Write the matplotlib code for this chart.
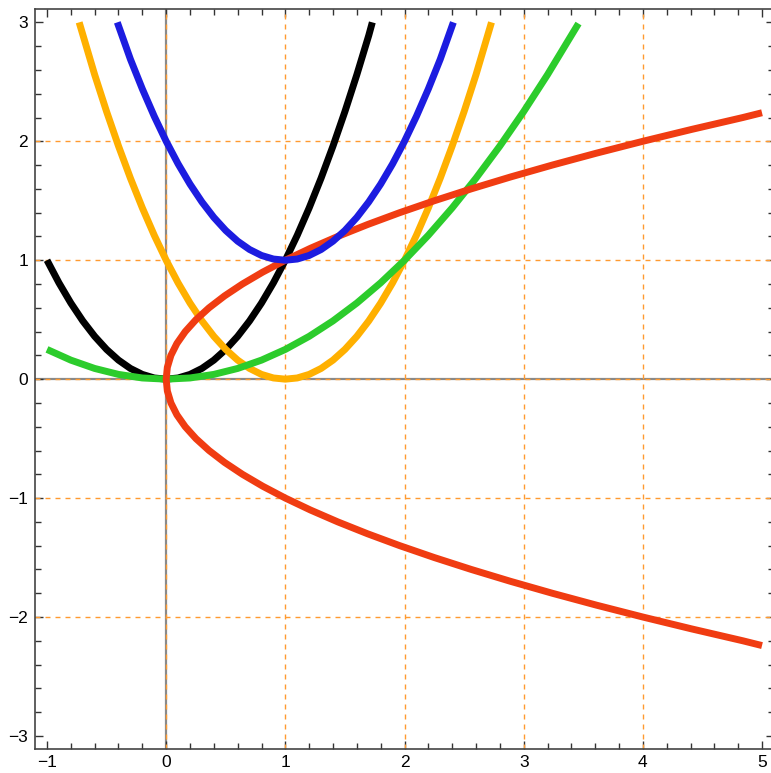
import matplotlib
matplotlib.use("Agg")
import matplotlib.pyplot as plt
from matplotlib.ticker import MultipleLocator

plt.rcParams['font.family'] = ['Liberation Sans', 'DejaVu Sans']

# black parabola
black_x = [-1.0, -0.9, -0.8, -0.7, -0.6, -0.5, -0.4, -0.3, -0.2, -0.1, 0.0,
           0.1, 0.2, 0.3, 0.4, 0.5, 0.6, 0.7, 0.8, 0.9, 1.0, 1.1, 1.2, 1.3,
           1.4, 1.5, 1.6, 1.7, 1.73]
black_y = [1.00, 0.81, 0.64, 0.49, 0.36, 0.25, 0.16, 0.09, 0.04, 0.01, 0.00,
           0.01, 0.04, 0.09, 0.16, 0.25, 0.36, 0.49, 0.64, 0.81, 1.00, 1.21, 1.44, 1.69,
           1.96, 2.25, 2.56, 2.89, 3.00]

# orange parabola
orange_x = [-0.73, -0.6, -0.5, -0.4, -0.3, -0.2, -0.1, 0.0, 0.1, 0.2, 0.3, 0.4,
            0.5, 0.6, 0.7, 0.8, 0.9, 1.0, 1.1, 1.2, 1.3, 1.4, 1.5, 1.6, 1.7, 1.8,
            1.9, 2.0, 2.1, 2.2, 2.3, 2.4, 2.5, 2.6, 2.73]
orange_y = [3.00, 2.56, 2.25, 1.96, 1.69, 1.44, 1.21, 1.00, 0.81, 0.64, 0.49, 0.36,
            0.25, 0.16, 0.09, 0.04, 0.01, 0.00, 0.01, 0.04, 0.09, 0.16, 0.25, 0.36, 0.49, 0.64,
            0.81, 1.00, 1.21, 1.44, 1.69, 1.96, 2.25, 2.56, 3.00]

# blue parabola
blue_x = [-0.41, -0.3, -0.2, -0.1, 0.0, 0.1, 0.2, 0.3, 0.4, 0.5, 0.6, 0.7, 0.8,
          0.9, 1.0, 1.1, 1.2, 1.3, 1.4, 1.5, 1.6, 1.7, 1.8, 1.9, 2.0, 2.1, 2.2,
          2.3, 2.41]
blue_y = [3.00, 2.69, 2.44, 2.21, 2.00, 1.81, 1.64, 1.49, 1.36, 1.25, 1.16, 1.09, 1.04,
          1.01, 1.00, 1.01, 1.04, 1.09, 1.16, 1.25, 1.36, 1.49, 1.64, 1.81, 2.00, 2.21, 2.44,
          2.69, 3.00]

# green parabola
green_x = [-1.0, -0.8, -0.6, -0.4, -0.2, 0.0, 0.2, 0.4, 0.6, 0.8, 1.0, 1.2, 1.4,
           1.6, 1.8, 2.0, 2.2, 2.4, 2.6, 2.8, 3.0, 3.2, 3.46]
green_y = [0.25, 0.16, 0.09, 0.04, 0.01, 0.00, 0.01, 0.04, 0.09, 0.16, 0.25, 0.36, 0.49,
           0.64, 0.81, 1.00, 1.21, 1.44, 1.69, 1.96, 2.25, 2.56, 2.99]

# red sideways parabola
red_y = [-2.24, -2.2, -2.1, -2.0, -1.9, -1.8, -1.7, -1.6, -1.5, -1.4, -1.3, -1.2,
         -1.1, -1.0, -0.9, -0.8, -0.7, -0.6, -0.5, -0.4, -0.3, -0.2, -0.1, 0.0,
         0.1, 0.2, 0.3, 0.4, 0.5, 0.6, 0.7, 0.8, 0.9, 1.0, 1.1, 1.2, 1.3, 1.4,
         1.5, 1.6, 1.7, 1.8, 1.9, 2.0, 2.1, 2.2, 2.24]
red_x = [5.00, 4.84, 4.41, 4.00, 3.61, 3.24, 2.89, 2.56, 2.25, 1.96, 1.69, 1.44,
         1.21, 1.00, 0.81, 0.64, 0.49, 0.36, 0.25, 0.16, 0.09, 0.04, 0.01, 0.00,
         0.01, 0.04, 0.09, 0.16, 0.25, 0.36, 0.49, 0.64, 0.81, 1.00, 1.21, 1.44, 1.69, 1.96,
         2.25, 2.56, 2.89, 3.24, 3.61, 4.00, 4.41, 4.84, 5.00]

grid_x = [0, 1, 2, 3, 4]
grid_y = [-2, -1, 0, 1, 2]

fig = plt.figure(figsize=(7.71, 7.73), dpi=100)
ax = fig.add_axes([0.0455, 0.031, 0.9583, 0.957])

ax.axhline(0, color='#8a8a8a', lw=1.6, zorder=1)
ax.axvline(0, color='#8a8a8a', lw=1.6, zorder=1)
for g in grid_x:
    ax.axvline(g, color='#ff9a30', lw=1.0, dashes=(3.6, 3.6), zorder=2)
for g in grid_y:
    ax.axhline(g, color='#ff9a30', lw=1.0, dashes=(3.6, 3.6), zorder=2)

lw = 5.0
ax.plot(black_x, black_y, color='black', lw=lw, solid_capstyle='butt', zorder=3)
ax.plot(orange_x, orange_y, color='#ffb000', lw=lw, solid_capstyle='butt', zorder=4)
ax.plot(green_x, green_y, color='#2ccc2c', lw=lw, solid_capstyle='butt', zorder=5)
ax.plot(red_x, red_y, color='#f03c12', lw=lw, solid_capstyle='butt', zorder=6)
ax.plot(blue_x, blue_y, color='#1c1ce0', lw=lw, solid_capstyle='butt', zorder=7)

ax.set_xlim(-1.1, 5.1)
ax.set_ylim(-3.11, 3.11)
ax.xaxis.set_major_locator(MultipleLocator(1))
ax.xaxis.set_minor_locator(MultipleLocator(0.2))
ax.yaxis.set_major_locator(MultipleLocator(1))
ax.yaxis.set_minor_locator(MultipleLocator(0.2))
ax.tick_params(which='both', direction='in', top=True, right=True,
               color='#333333', labelsize=12.5, labelcolor='black')
ax.tick_params(which='major', length=5.5, width=1)
ax.tick_params(which='minor', length=4, width=1)
ax.tick_params(axis='x', pad=4)
ax.tick_params(axis='y', pad=5)
for s in ax.spines.values():
    s.set_color('#444444')
    s.set_linewidth(1.2)

fig.savefig('out.png', dpi=100)
